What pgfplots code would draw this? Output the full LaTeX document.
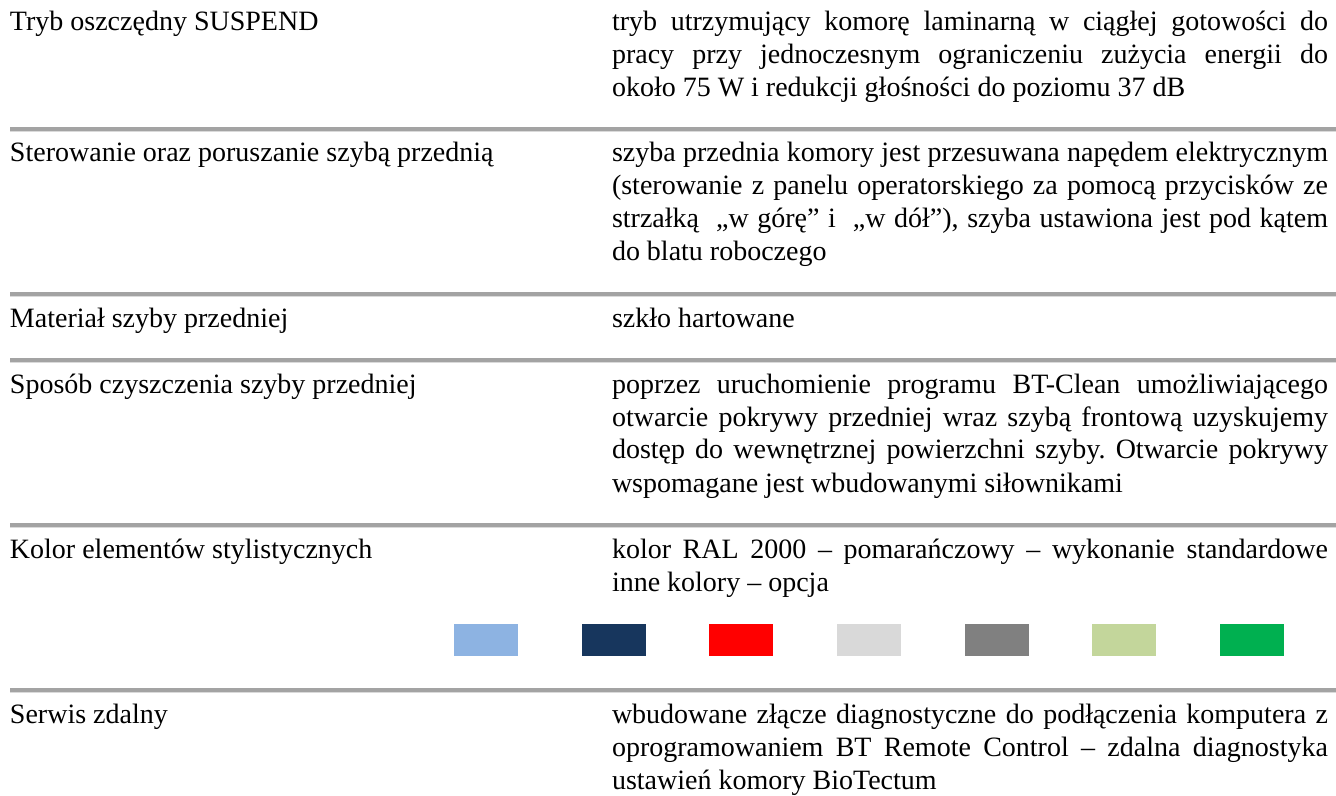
\documentclass[border=0pt]{standalone}
\usepackage{pgfplots}
\pgfplotsset{compat=1.18}
\usepackage{fontspec}
\setmainfont{Liberation Serif}
\frenchspacing
\definecolor{sepdark}{HTML}{A3A3A3}
\definecolor{seplight}{HTML}{DADADA}
\definecolor{c1}{HTML}{8DB3E2}
\definecolor{c2}{HTML}{17365D}
\definecolor{c3}{HTML}{FF0000}
\definecolor{c4}{HTML}{D9D9D9}
\definecolor{c5}{HTML}{808080}
\definecolor{c6}{HTML}{C3D69B}
\definecolor{c7}{HTML}{00B050}
\tikzset{
  lbl/.style={font=\fontsize{14pt}{16.5pt}\selectfont\frenchspacing, inner sep=0pt, outer sep=0pt, anchor=base west},
  txt/.style={lbl, text width=358pt, align=justify}}
\begin{document}
\begin{tikzpicture}
\begin{axis}[
  scale only axis, width=668pt, height=398pt,
  xmin=0, xmax=1336, ymin=0, ymax=796, y dir=reverse,
  hide axis, clip=false,
]
\coordinate (bl) at (rel axis cs:0,0);
\coordinate (tr) at (rel axis cs:1,1);
% separators
\addplot[sepdark, line width=2pt, forget plot] coordinates {(10,129) (1336,129)};
\addplot[sepdark, line width=2pt, forget plot] coordinates {(10,294) (1336,294)};
\addplot[sepdark, line width=2pt, forget plot] coordinates {(10,360) (1336,360)};
\addplot[sepdark, line width=2pt, forget plot] coordinates {(10,525) (1336,525)};
\addplot[sepdark, line width=2pt, forget plot] coordinates {(10,690) (1336,690)};
\addplot[seplight, line width=0.6pt, forget plot] coordinates {(10,131.8) (1336,131.8)};
\addplot[seplight, line width=0.6pt, forget plot] coordinates {(10,296.8) (1336,296.8)};
\addplot[seplight, line width=0.6pt, forget plot] coordinates {(10,362.8) (1336,362.8)};
\addplot[seplight, line width=0.6pt, forget plot] coordinates {(10,527.8) (1336,527.8)};
\addplot[seplight, line width=0.6pt, forget plot] coordinates {(10,692.8) (1336,692.8)};
% colour squares
\addplot[fill=c1, draw=none] coordinates {(454,624) (518,624) (518,656) (454,656)} -- cycle;
\addplot[fill=c2, draw=none] coordinates {(582,624) (646,624) (646,656) (582,656)} -- cycle;
\addplot[fill=c3, draw=none] coordinates {(709,624) (773,624) (773,656) (709,656)} -- cycle;
\addplot[fill=c4, draw=none] coordinates {(837,624) (901,624) (901,656) (837,656)} -- cycle;
\addplot[fill=c5, draw=none] coordinates {(965,624) (1029,624) (1029,656) (965,656)} -- cycle;
\addplot[fill=c6, draw=none] coordinates {(1092,624) (1156,624) (1156,656) (1092,656)} -- cycle;
\addplot[fill=c7, draw=none] coordinates {(1220,624) (1284,624) (1284,656) (1220,656)} -- cycle;
% left column
\node[lbl] at (axis cs:10,31) {Tryb oszczędny SUSPEND};
\node[lbl] at (axis cs:10,162) {Sterowanie oraz poruszanie szybą przednią};
\node[lbl] at (axis cs:10,328) {Materiał szyby przedniej};
\node[lbl] at (axis cs:10,393) {Sposób czyszczenia szyby przedniej};
\node[lbl] at (axis cs:10,558) {Kolor elementów stylistycznych};
\node[lbl] at (axis cs:10,723) {Serwis zdalny};
% right column
\node[txt] at (axis cs:612,31) {\hyphenpenalty=10000 tryb utrzymujący komorę laminarną w ciągłej gotowości do\linebreak pracy przy jednoczesnym ograniczeniu zużycia energii do\linebreak około 75 W i redukcji głośności do poziomu 37 dB};
\node[txt] at (axis cs:612,162) {\hyphenpenalty=10000 szyba przednia komory jest przesuwana napędem elektrycznym\linebreak (sterowanie z panelu operatorskiego za pomocą przycisków ze\linebreak strzałką \ „w górę” i \ „w dół”), szyba ustawiona jest pod kątem\linebreak do blatu roboczego};
\node[txt] at (axis cs:612,328) {szkło hartowane};
\node[txt] at (axis cs:612,393) {\hyphenpenalty=10000 poprzez uruchomienie programu BT-Clean umożliwiającego\linebreak otwarcie pokrywy przedniej wraz szybą frontową uzyskujemy\linebreak dostęp do wewnętrznej powierzchni szyby. Otwarcie pokrywy\linebreak wspomagane jest wbudowanymi siłownikami};
\node[txt] at (axis cs:612,558) {\hyphenpenalty=10000 kolor RAL 2000 – pomarańczowy – wykonanie standardowe\linebreak inne kolory – opcja};
\node[txt] at (axis cs:612,723) {\hyphenpenalty=10000 wbudowane złącze diagnostyczne do podłączenia komputera z\linebreak oprogramowaniem BT Remote Control – zdalna diagnostyka\linebreak ustawień komory BioTectum};
\end{axis}
\pgfresetboundingbox
\useasboundingbox (bl) rectangle (tr);
\end{tikzpicture}
\end{document}
